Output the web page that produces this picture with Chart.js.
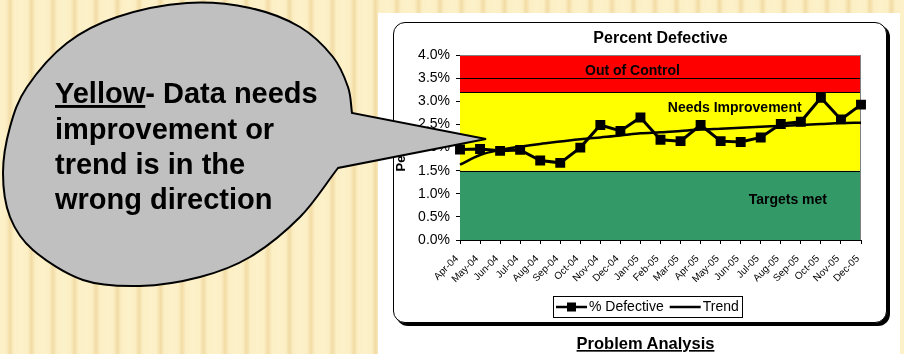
<!DOCTYPE html>
<html>
<head>
<meta charset="utf-8">
<script src="https://cdn.jsdelivr.net/npm/chart.js@4.4.1/dist/chart.umd.min.js"></script>
<style>
  html, body { margin: 0; padding: 0; }
  body {
    width: 904px; height: 354px; overflow: hidden; position: relative;
    background: repeating-linear-gradient(90deg,
      #fdf1ca 0px, #fcefc5 6px, #f2dca5 10px, #fcefc5 14px, #fdf1ca 21.5px);
    font-family: "Liberation Sans", Arial, sans-serif;
  }
  #sheet { position: absolute; left: 378px; top: 13px; width: 522px; height: 341px; background: #fff; }
  #panel {
    position: absolute; left: 393px; top: 22px; width: 494px; height: 301px;
    box-sizing: border-box; border: 1.5px solid #000; border-radius: 12px;
    box-shadow: 3px 3px 0 #000; background: #fff;
  }
  #chart { position: absolute; left: 0; top: 0; }
  #overlay { position: absolute; left: 0; top: 0; }
</style>
</head>
<body>
<div id="sheet"></div>
<div id="panel"></div>
<canvas id="chart" width="904" height="354"></canvas>
<svg id="overlay" width="904" height="354" xmlns="http://www.w3.org/2000/svg">
  <path id="bubble" fill="#c0c0c0" stroke="#000" stroke-width="2" stroke-linejoin="miter"></path>
  <g font-family="Liberation Sans, Arial, sans-serif" font-weight="bold" font-size="29" fill="#000">
    <text x="55" y="103"><tspan style="text-decoration: underline">Yellow</tspan>- Data needs</text>
    <text x="55" y="139">improvement or</text>
    <text x="55" y="174">trend is in the</text>
    <text x="55" y="209">wrong direction</text>
  </g>
  <text x="645.5" y="349" text-anchor="middle" font-family="Liberation Sans, Arial, sans-serif"
        font-weight="bold" font-size="16.5" fill="#000" style="text-decoration: underline">Problem Analysis</text>
</svg>

<script>
// Monthly categories
const months = ['Apr-04','May-04','Jun-04','Jul-04','Aug-04','Sep-04','Oct-04','Nov-04','Dec-04',
                'Jan-05','Feb-05','Mar-05','Apr-05','May-05','Jun-05','Jul-05','Aug-05','Sep-05',
                'Oct-05','Nov-05','Dec-05'];

// Percent defective per month (%)
const pctDefective = [1.96, 1.97, 1.93, 1.95, 1.72, 1.67, 2.00, 2.49, 2.36, 2.65, 2.17,
                      2.14, 2.49, 2.14, 2.12, 2.22, 2.51, 2.56, 3.08, 2.61, 2.93];

// Trend line values per month (%)
const trendValues = [1.63, 1.84, 1.95, 2.02, 2.08, 2.13, 2.18, 2.22, 2.26, 2.31, 2.33,
                     2.36, 2.39, 2.41, 2.43, 2.45, 2.47, 2.49, 2.51, 2.53, 2.54];

// Y axis tick labels (0.0% to 4.0% in 0.5 steps)
const yTickLabels = ['0.0%','0.5%','1.0%','1.5%','2.0%','2.5%','3.0%','3.5%','4.0%'];

// Performance zones: lower/upper limits (%) and zone names
const zoneEdges = [0, 1.5, 3.2, 3.5, 4.0];
const zoneNames = ['Targets met', 'Needs Improvement', 'Out of Control'];

const FONT = '"Liberation Sans", Arial, sans-serif';
Chart.defaults.font.family = FONT;
Chart.defaults.color = '#000';

// Coloured zone bands behind the series, with zone captions
const zonePlugin = {
  id: 'zones',
  beforeDatasetsDraw(chart, args, opts) {
    const { ctx, chartArea: a, scales: { x, y } } = chart;
    ctx.save();
    for (let i = 0; i < zoneEdges.length - 1; i++) {
      const top = y.getPixelForValue(zoneEdges[i + 1]);
      const bot = y.getPixelForValue(zoneEdges[i]);
      ctx.fillStyle = opts.colors[i];
      ctx.fillRect(a.left, top, a.right - a.left, bot - top);
    }
    ctx.strokeStyle = '#000';
    ctx.lineWidth = 1;
    ctx.beginPath();
    for (let i = 1; i < zoneEdges.length - 1; i++) {
      const py = Math.round(y.getPixelForValue(zoneEdges[i])) + 0.5;
      ctx.moveTo(a.left, py);
      ctx.lineTo(a.right, py);
    }
    ctx.stroke();
    // plot frame (top and right)
    ctx.strokeStyle = '#808080';
    ctx.beginPath();
    ctx.moveTo(a.left, Math.round(a.top) + 0.5);
    ctx.lineTo(Math.round(a.right) - 0.5, Math.round(a.top) + 0.5);
    ctx.lineTo(Math.round(a.right) - 0.5, a.bottom);
    ctx.stroke();
    // zone captions
    ctx.fillStyle = '#000';
    ctx.font = 'bold 14px ' + FONT;
    ctx.textAlign = 'center';
    ctx.textBaseline = 'middle';
    opts.captions.forEach((c, i) => {
      ctx.fillText(zoneNames[i], x.getPixelForValue(c.at), y.getPixelForValue(c.level));
    });
    ctx.restore();
  }
};

// Boxed legend below the axis: line sample (with marker when the series has one) + label
const boxedLegend = {
  id: 'boxedLegend',
  afterDraw(chart, args, opts) {
    const ctx = chart.ctx;
    const sets = chart.data.datasets;
    ctx.save();
    ctx.font = '14px ' + FONT;
    const sample = 31, gap = 2, pad = 3, between = 6;
    const widths = sets.map(ds => ctx.measureText(ds.label).width);
    let total = pad * 2 + between * (sets.length - 1);
    widths.forEach(w => { total += sample + gap + w; });
    let x = Math.round(opts.centerX - total / 2);
    const top = opts.top, h = opts.height, cy = top + h / 2;
    ctx.strokeStyle = '#000';
    ctx.lineWidth = 1;
    ctx.strokeRect(x + 0.5, top + 0.5, Math.round(total), h);
    x += pad;
    sets.forEach((ds, i) => {
      ctx.strokeStyle = ds.borderColor;
      ctx.lineWidth = 2.5;
      ctx.beginPath();
      ctx.moveTo(x, cy + 0.5);
      ctx.lineTo(x + sample, cy + 0.5);
      ctx.stroke();
      if (ds.pointRadius > 0) {
        ctx.fillStyle = ds.backgroundColor;
        ctx.fillRect(x + sample / 2 - 4.5, cy - 4, 9, 9);
      }
      ctx.fillStyle = '#000';
      ctx.textBaseline = 'middle';
      ctx.fillText(ds.label, x + sample + gap, cy + 1);
      x += sample + gap + widths[i] + between;
    });
    ctx.restore();
  }
};

new Chart(document.getElementById('chart'), {
  type: 'line',
  data: {
    labels: months,
    datasets: [
      {
        label: '% Defective',
        data: pctDefective,
        borderColor: '#000',
        backgroundColor: '#000',
        borderWidth: 3,
        pointStyle: 'rect',
        pointRadius: 7,
        pointBorderWidth: 0,
        tension: 0
      },
      {
        label: 'Trend',
        data: trendValues,
        borderColor: '#000',
        backgroundColor: '#000',
        borderWidth: 2.5,
        pointRadius: 0,
        cubicInterpolationMode: 'monotone'
      }
    ]
  },
  options: {
    responsive: false,
    animation: false,
    devicePixelRatio: 1,
    layout: { padding: { left: 390, right: 43, top: 23, bottom: 62 } },
    events: [],
    plugins: {
      legend: { display: false },
      tooltip: { enabled: false },
      title: {
        display: true,
        text: 'Percent Defective',
        fullSize: false,
        color: '#000',
        font: { size: 16, weight: 'bold' },
        padding: { top: 6, bottom: 7 }
      },
      zones: {
        colors: ['#339966', '#ffff00', '#ff0000', '#ff0000'],
        captions: [
          { at: 16.35, level: 0.87 },
          { at: 13.7, level: 2.86 },
          { at: 8.6, level: 3.66 }
        ]
      },
      boxedLegend: { centerX: 647, top: 296, height: 21 }
    },
    scales: {
      x: {
        offset: false,
        border: { color: '#000', width: 1 },
        grid: { drawOnChartArea: false, drawTicks: true, tickLength: 4, color: '#000' },
        ticks: { autoSkip: false, minRotation: 45, maxRotation: 45, padding: 9, labelOffset: -3,
                 color: '#000', font: { size: 10 } },
        afterFit(scale) { scale.height = 52; }
      },
      y: {
        min: 0,
        max: 4,
        border: { color: '#000', width: 1 },
        grid: { drawOnChartArea: false, drawTicks: true, tickLength: 4, color: '#000' },
        ticks: { stepSize: 0.5, padding: 6, color: '#000', font: { size: 14 },
                 callback: (v, i) => yTickLabels[i] },
        title: { display: true, text: 'Percent', color: '#000',
                 font: { size: 13, weight: 'bold' }, padding: { top: 4, bottom: 0 } },
        afterFit(scale) { scale.width = 70; }
      }
    }
  },
  plugins: [zonePlugin, boxedLegend]
});

// Speech-bubble outline: smooth rim through the given points, straight wedge to the tip
(function () {
  const rim = [[338,168],[300,217],[250,257],[200,277],[140,286],[83,280],[33,250],[10,217],
               [3,173],[10,127],[27,87],[67,43],[117,17],[187,3],[250,8],[300,27],[333,57],
               [348,87],[352,113]];
  const tip = [486, 139];
  const n = rim.length;
  const at = i => {
    if (i < 0) return [2 * rim[0][0] - rim[1][0], 2 * rim[0][1] - rim[1][1]];
    if (i >= n) return [2 * rim[n - 1][0] - rim[n - 2][0], 2 * rim[n - 1][1] - rim[n - 2][1]];
    return rim[i];
  };
  let d = `M${tip[0]},${tip[1]} L${rim[0][0]},${rim[0][1]}`;
  for (let i = 0; i < n - 1; i++) {
    const p0 = at(i - 1), p1 = at(i), p2 = at(i + 1), p3 = at(i + 2);
    const c1 = [p1[0] + (p2[0] - p0[0]) / 6, p1[1] + (p2[1] - p0[1]) / 6];
    const c2 = [p2[0] - (p3[0] - p1[0]) / 6, p2[1] - (p3[1] - p1[1]) / 6];
    d += ` C${c1[0].toFixed(1)},${c1[1].toFixed(1)} ${c2[0].toFixed(1)},${c2[1].toFixed(1)} ${p2[0]},${p2[1]}`;
  }
  d += ' Z';
  document.getElementById('bubble').setAttribute('d', d);
})();
</script>
</body>
</html>
